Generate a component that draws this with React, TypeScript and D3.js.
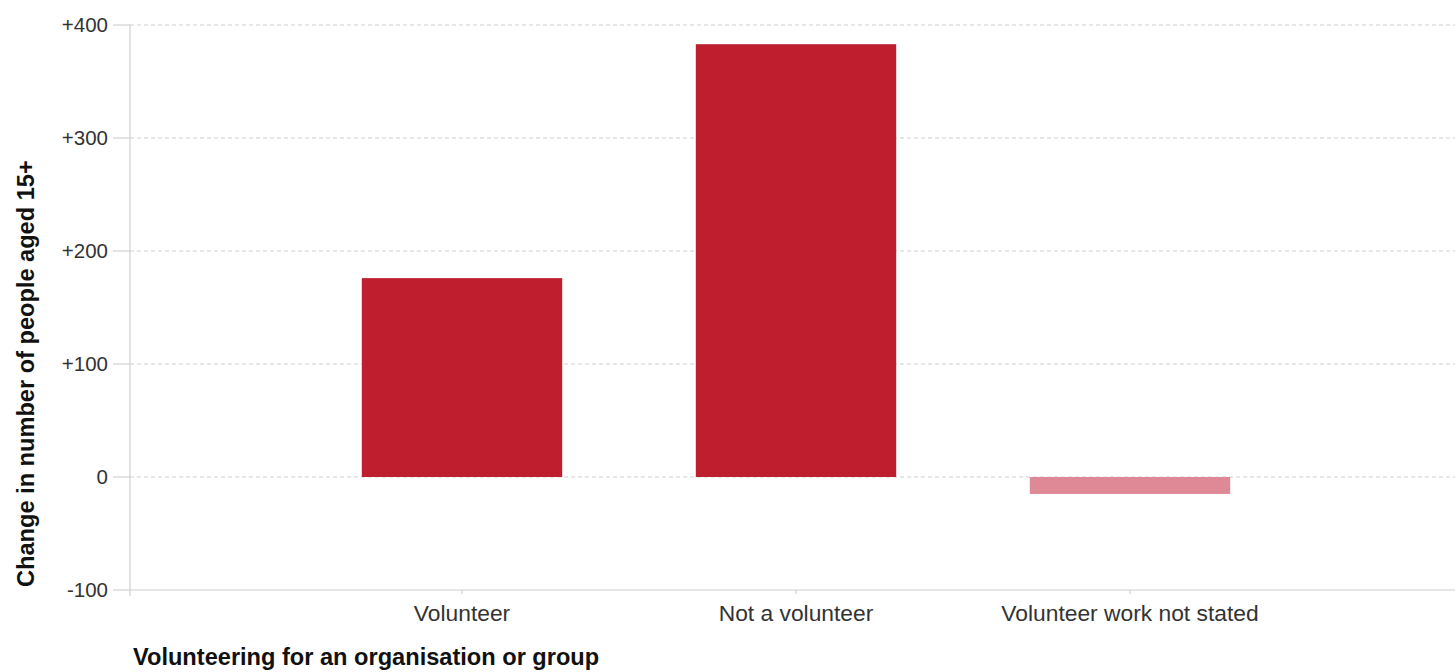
import React from "react";
import * as d3 from "d3";

const categories = ["Volunteer", "Not a volunteer", "Volunteer work not stated"];
const values = [176, 383, -15];
const yTicks = [-100, 0, 100, 200, 300, 400];
const yTickLabels = ["-100", "0", "+100", "+200", "+300", "+400"];

const W = 1455;
const H = 672;
const axisX = 130;
const font = "'Liberation Sans', Arial, sans-serif";

export default function App() {
  const y = d3.scaleLinear().domain([-100, 400]).range([590, 25]);
  const x = d3
    .scaleBand<string>()
    .domain(categories)
    .range([295, 1297])
    .paddingInner(0.4)
    .paddingOuter(0.2);

  return (
    <svg
      width={W}
      height={H}
      style={{ position: "absolute", left: 0, top: 0, background: "#fff" }}
      fontFamily={font}
    >
      {/* gridlines */}
      {yTicks.map((t, i) => (
        <g key={t}>
          <line x1={113} x2={axisX} y1={y(t)} y2={y(t)} stroke="#c8c8c8" strokeWidth={1} />
          {t !== -100 && (
            <line
              x1={axisX}
              x2={W}
              y1={y(t)}
              y2={y(t)}
              stroke="#cfcfcf"
              strokeWidth={1}
              strokeDasharray="4,3"
            />
          )}
          <text
            x={108}
            y={y(t)}
            dy="0.36em"
            textAnchor="end"
            fontSize={20.5}
            fill="#333"
          >
            {yTickLabels[i]}
          </text>
        </g>
      ))}
      {/* axes */}
      <line x1={axisX} x2={axisX} y1={y(400)} y2={y(-100) + 6} stroke="#d0d0d0" strokeWidth={1.2} />
      <line x1={axisX} x2={W} y1={y(-100)} y2={y(-100)} stroke="#d0d0d0" strokeWidth={1.2} />
      {/* bars */}
      {categories.map((c, i) => {
        const v = values[i];
        const x0 = x(c)!;
        return (
          <rect
            key={c}
            x={x0}
            width={x.bandwidth()}
            y={y(Math.max(0, v))}
            height={Math.abs(y(v) - y(0))}
            fill={v < 0 ? "#E08996" : "#BE1E2D"}
          />
        );
      })}
      {/* x ticks & labels */}
      {categories.map((c) => {
        const cx = x(c)! + x.bandwidth() / 2;
        return (
          <g key={c}>
            <line x1={cx} x2={cx} y1={y(-100)} y2={y(-100) + 4} stroke="#c8c8c8" />
            <text x={cx} y={621} textAnchor="middle" fontSize={22.8} fill="#333">
              {c}
            </text>
          </g>
        );
      })}
      {/* axis titles */}
      <text
        transform={`translate(34, 587) rotate(-90)`}
        textAnchor="start"
        fontSize={23.6}
        fontWeight="bold"
        fill="#111"
      >
        Change in number of people aged 15+
      </text>
      <text x={133} y={665} fontSize={23.6} fontWeight="bold" fill="#111">
        Volunteering for an organisation or group
      </text>
    </svg>
  );
}
